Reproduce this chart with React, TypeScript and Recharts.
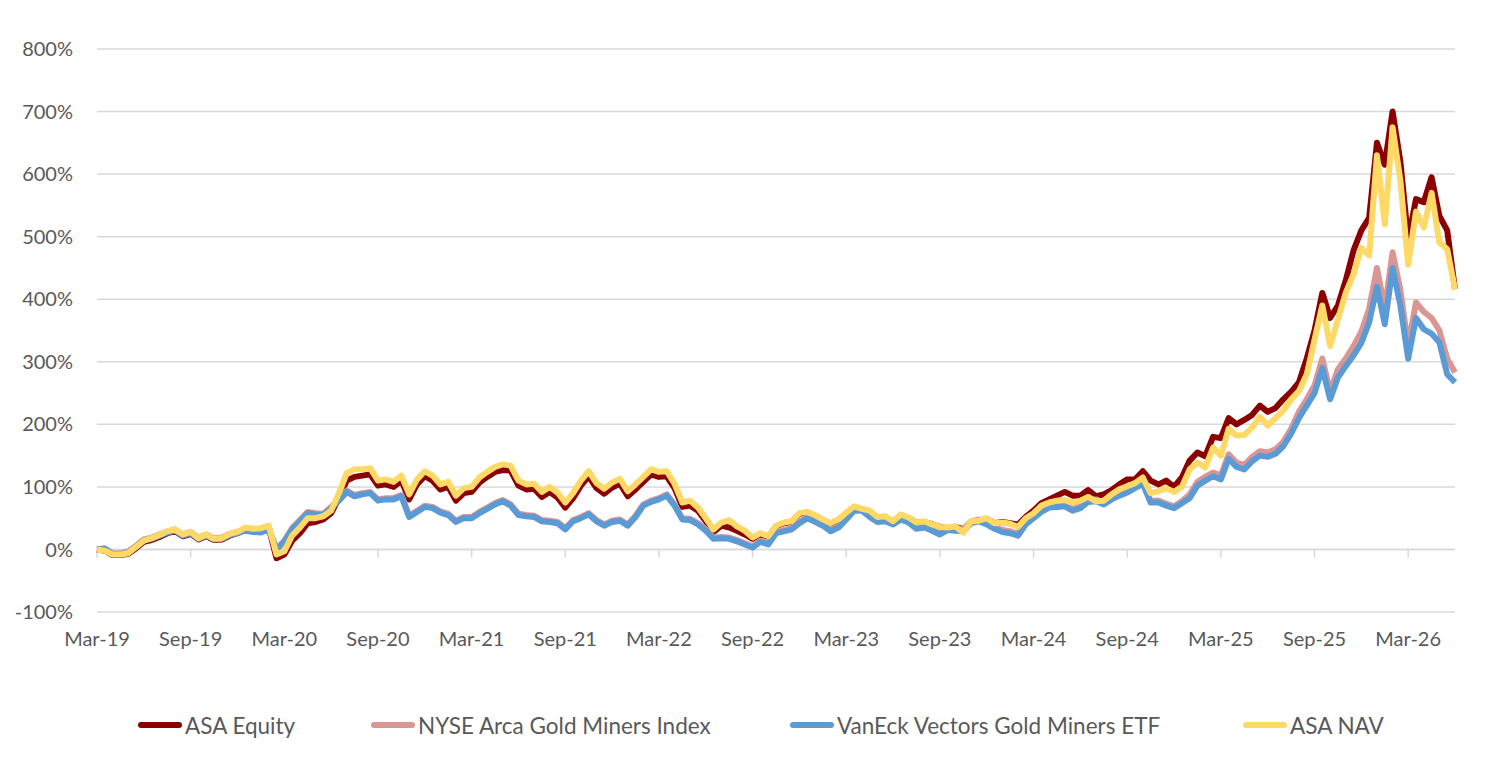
import { LineChart, Line, XAxis, YAxis, CartesianGrid, ReferenceLine } from 'recharts'

// half-month steps starting Mar-19
const asaEquity = [
  0, -2, -9, -9, -7, 2, 12, 15, 20, 26, 29, 21, 25, 16, 21, 15, 16, 22, 26, 32,
  30, 32, 35, -14, -8, 14, 26, 42, 44, 48, 58, 82, 110, 116, 118, 120, 102, 104, 100, 110,
  80, 104, 117, 110, 96, 100, 78, 90, 92, 107, 116, 124, 127, 126, 102, 96, 97, 84, 92, 83,
  67, 82, 102, 117, 98, 89, 99, 105, 85, 96, 108, 120, 116, 117, 98, 68, 70, 62, 45, 28,
  38, 35, 30, 24, 17, 24, 20, 37, 42, 44, 57, 59, 54, 47, 41, 47, 58, 67, 64, 61,
  51, 52, 44, 55, 50, 43, 44, 40, 36, 34, 36, 32, 44, 46, 49, 42, 44, 42, 40, 52,
  62, 74, 80, 86, 92, 86, 86, 95, 85, 88, 95, 104, 112, 112, 125, 110, 104, 110, 100, 115,
  142, 155, 149, 180, 178, 210, 200, 207, 215, 230, 220, 226, 240, 252, 267, 305, 350, 410, 370, 390,
  430, 478, 510, 530, 650, 615, 700, 620, 495, 560, 555, 595, 533, 510, 416
]

const nyseArca = [
  0, 2, -6, -6, -3, 6, 16, 19, 24, 29, 32, 24, 28, 19, 24, 18, 19, 25, 28, 32,
  30, 29, 34, 1, 14, 34, 47, 60, 58, 57, 68, 80, 94, 87, 90, 92, 80, 82, 82, 87,
  54, 62, 70, 68, 61, 57, 46, 52, 52, 60, 67, 74, 79, 72, 57, 55, 54, 47, 46, 44,
  34, 47, 52, 58, 47, 40, 46, 48, 40, 54, 72, 78, 82, 88, 72, 50, 49, 42, 32, 19,
  20, 19, 15, 10, 5, 14, 10, 28, 31, 34, 44, 52, 46, 40, 31, 37, 50, 64, 64, 54,
  47, 48, 43, 51, 46, 36, 38, 33, 27, 34, 33, 32, 45, 48, 43, 36, 31, 29, 25, 43,
  53, 63, 70, 71, 72, 65, 69, 79, 80, 75, 83, 89, 94, 101, 108, 78, 78, 73, 69, 77,
  88, 108, 116, 123, 118, 152, 139, 135, 148, 157, 155, 160, 172, 193, 220, 240, 262, 305, 252, 288,
  305, 325, 348, 385, 450, 385, 475, 415, 325, 395, 380, 370, 350, 305, 283
]

const vanEck = [
  0, 1, -8, -8, -5, 4, 14, 17, 22, 27, 30, 22, 26, 17, 22, 16, 17, 23, 26, 30,
  28, 27, 32, 0, 12, 32, 45, 58, 56, 55, 66, 78, 92, 85, 88, 90, 78, 80, 80, 85,
  52, 60, 68, 66, 59, 55, 44, 50, 50, 58, 65, 72, 77, 70, 55, 53, 52, 45, 44, 42,
  32, 45, 50, 56, 45, 38, 44, 46, 38, 52, 70, 76, 80, 86, 70, 48, 47, 40, 30, 17,
  18, 17, 13, 8, 3, 12, 8, 26, 29, 32, 42, 50, 44, 38, 29, 35, 48, 62, 62, 52,
  44, 45, 40, 48, 43, 33, 35, 30, 24, 31, 30, 29, 42, 45, 40, 33, 28, 26, 22, 40,
  50, 60, 67, 68, 69, 62, 66, 76, 77, 72, 80, 86, 91, 98, 105, 75, 75, 70, 66, 74,
  82, 102, 110, 117, 112, 145, 132, 128, 141, 150, 148, 153, 165, 185, 210, 230, 250, 290, 240, 275,
  293, 310, 330, 363, 420, 360, 450, 390, 305, 370, 352, 345, 331, 280, 267
]

const asaNav = [
  0, -2, -8, -8, -6, 4, 14, 18, 23, 29, 32, 24, 28, 18, 24, 17, 18, 25, 28, 35,
  33, 34, 38, -8, -3, 22, 35, 50, 50, 53, 62, 90, 122, 128, 128, 130, 110, 112, 108, 118,
  88, 112, 125, 118, 104, 108, 86, 98, 100, 115, 124, 132, 136, 134, 110, 104, 105, 92, 100, 91,
  75, 90, 110, 125, 106, 97, 107, 113, 93, 104, 116, 128, 124, 125, 105, 75, 78, 67, 50, 32,
  43, 47, 37, 30, 19, 26, 21, 38, 43, 45, 58, 60, 55, 48, 42, 48, 59, 69, 65, 62,
  52, 53, 45, 56, 51, 43, 45, 40, 36, 35, 37, 27, 45, 46, 50, 42, 43, 41, 36, 50,
  58, 70, 75, 78, 79, 75, 78, 84, 77, 78, 88, 96, 101, 106, 115, 90, 93, 98, 92, 100,
  128, 139, 131, 163, 150, 193, 182, 183, 195, 212, 198, 210, 222, 240, 253, 280, 335, 390, 325, 368,
  410, 440, 482, 470, 630, 520, 675, 590, 455, 540, 515, 570, 491, 480, 416
]

const tickLabels = ['Mar-19', 'Sep-19', 'Mar-20', 'Sep-20', 'Mar-21', 'Sep-21', 'Mar-22', 'Sep-22',
  'Mar-23', 'Sep-23', 'Mar-24', 'Sep-24', 'Mar-25', 'Sep-25', 'Mar-26']
const xTicks = tickLabels.map((_, i) => i * 6)
const yTicks = [-100, 0, 100, 200, 300, 400, 500, 600, 700, 800]

const SERIES = [
  { key: 'equity', label: 'ASA Equity', color: '#8B0000', left: 138 },
  { key: 'nyse', label: 'NYSE Arca Gold Miners Index', color: '#DA9694', left: 371 },
  { key: 'vaneck', label: 'VanEck Vectors Gold Miners ETF', color: '#5B9BD5', left: 790 },
  { key: 'nav', label: 'ASA NAV', color: '#FFD966', left: 1243 }
]

const data = asaEquity.map((v, i) => ({
  m: i / 2,
  equity: v,
  nyse: nyseArca[i],
  vaneck: vanEck[i],
  nav: asaNav[i]
}))

const FONT = 'Lato, "Open Sans", sans-serif'
const TEXT = '#595959'
const GRID = '#D9D9D9'

export default function App() {
  return (
    <div style={{ position: 'absolute', left: 0, top: 0, width: 1497, height: 775, background: '#fff', fontFamily: FONT }}>
      <LineChart width={1497} height={680} data={data} margin={{ top: 49, right: 42, bottom: 28, left: 0 }}>
        <CartesianGrid vertical={false} stroke={GRID} strokeWidth={1.5} />
        <XAxis
          dataKey="m"
          type="number"
          domain={[0, 87]}
          ticks={xTicks}
          tickFormatter={(v) => tickLabels[v / 6]}
          axisLine={false}
          tickLine={false}
          height={40}
          tickMargin={14}
          interval={0}
          tick={{ fill: TEXT, fontSize: 20, fontFamily: FONT }}
        />
        <YAxis
          type="number"
          domain={[-100, 800]}
          ticks={yTicks}
          tickFormatter={(v) => `${v}%`}
          axisLine={false}
          tickLine={false}
          width={97}
          tickMargin={18}
          interval={0}
          tick={{ fill: TEXT, fontSize: 20, fontFamily: FONT }}
        />
        <ReferenceLine y={0} stroke={GRID} strokeWidth={1.5} />
        {xTicks.map((t) => (
          <ReferenceLine key={t} segment={[{ x: t, y: 0 }, { x: t, y: -13 }]} stroke={GRID} strokeWidth={1.5} />
        ))}
        {SERIES.map((s) => (
          <Line
            key={s.key}
            dataKey={s.key}
            stroke={s.color}
            strokeWidth={6}
            strokeLinejoin="round"
            dot={false}
            type="linear"
            isAnimationActive={false}
          />
        ))}
      </LineChart>
      {SERIES.map((s) => (
        <div key={s.key} style={{ position: 'absolute', left: s.left, top: 711, display: 'flex', alignItems: 'center', height: 28 }}>
          <span style={{ display: 'inline-block', width: 44, height: 6, borderRadius: 3, background: s.color, marginRight: 3 }} />
          <span style={{ fontSize: 22.5, color: TEXT, whiteSpace: 'nowrap' }}>{s.label}</span>
        </div>
      ))}
    </div>
  )
}
